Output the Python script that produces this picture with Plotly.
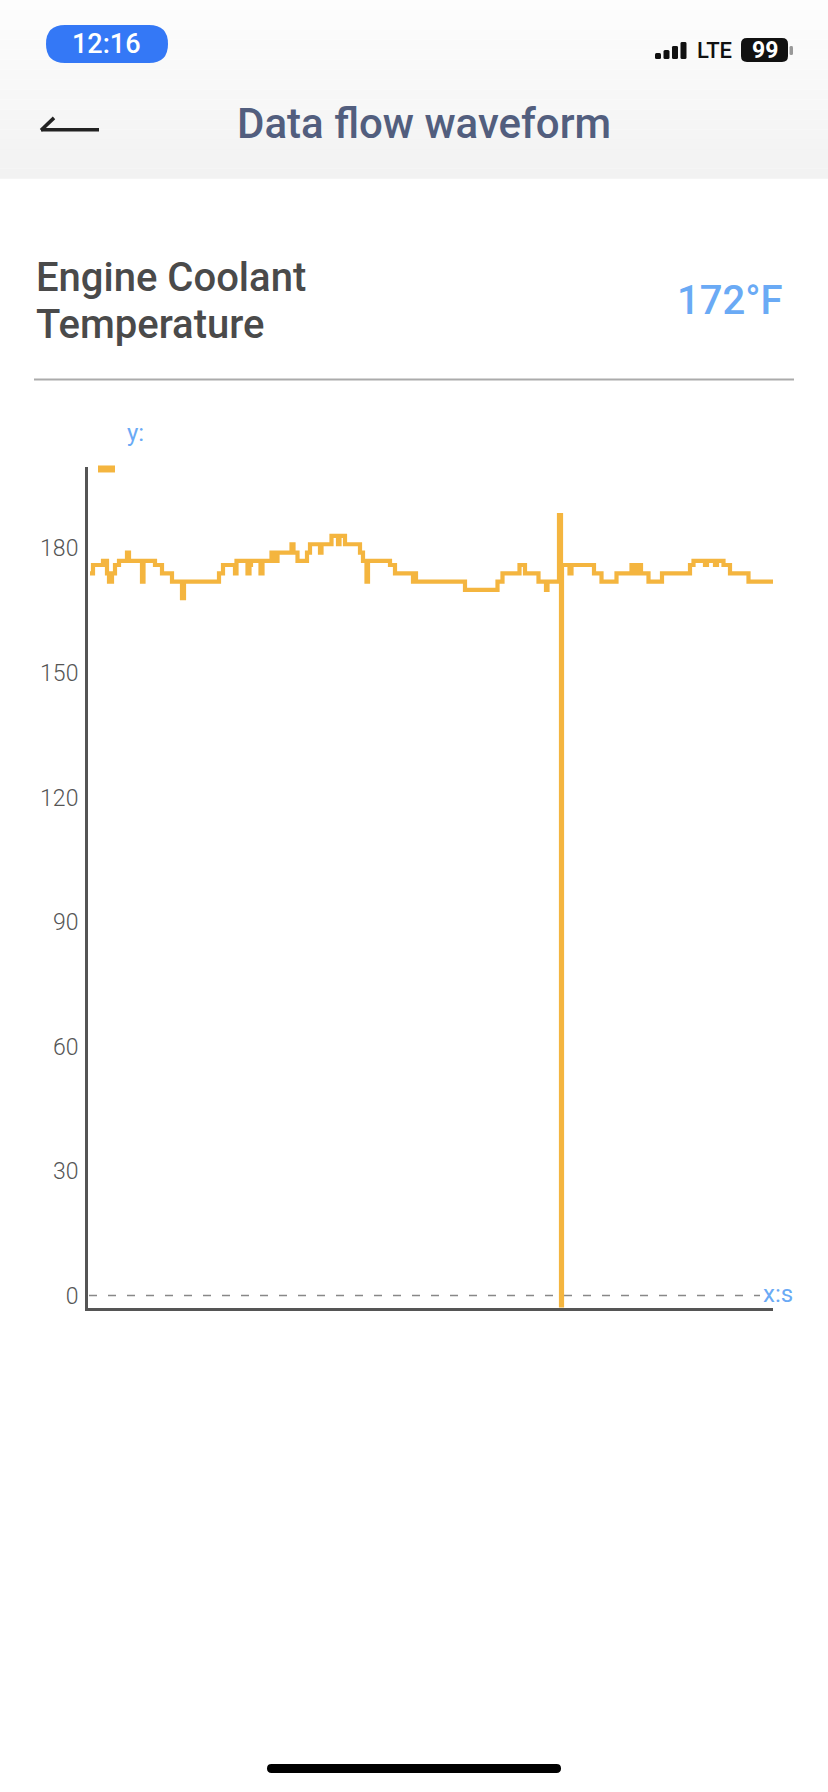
import plotly.graph_objects as go

# ---------------- data ----------------
time_s = [0, 1.5, 6.5, 8.5, 9.5, 11, 12.5, 14.5, 18.5, 19.5, 26, 26.75, 32.5, 36, 41, 46, 47,
          64.5, 66.5, 72.5, 73.25, 78.75, 79.75, 80.5, 85.25, 86.25, 90.75, 91.75, 93.75,
          100.75, 101.75, 103.75, 108.5, 110, 115, 115.75, 120.75, 124, 124.75, 127.5,
          135, 136.5, 138.25, 139, 150, 152.5, 161.5, 162, 163, 187.5, 203.75, 206.25,
          214.75, 217.5, 224.25, 228, 228.75, 234.5, 235.5, 236, 239.75, 240.75, 252,
          255.75, 263.25, 270.75, 272.5, 273.5, 275.5, 279.25, 286, 300, 301.75, 307.5,
          308.5, 312.5, 313.5, 316.75, 320, 329.25, 341.5]
temp_f = [174, 176, 177, 174, 172, 174, 176, 177, 179, 177, 172, 177, 176, 174, 172, 168, 172,
          174, 176, 174, 177, 174, 176, 177, 174, 177, 179, 177, 179,
          181, 179, 177, 179, 181, 179, 181, 183, 181, 183, 181,
          179, 177, 172, 177, 176, 174, 172, 174, 172, 170, 172, 174,
          176, 174, 172, 170, 172, 188, -40, 176, 174, 176, 174,
          172, 174, 176, 174, 176, 174, 172, 174, 176, 177, 176,
          177, 176, 177, 176, 174, 172, 172]
y_ticks = [0, 30, 60, 90, 120, 150, 180]
y_range = [-2.9, 199.5]
x_range = [-1, 341.5]

page_title = "Data flow waveform"
sensor_name = ["Engine Coolant", "Temperature"]
current_reading = "172°F"
status_time = "12:16"
battery_level = "99"

# ---------------- styling ----------------
W, H = 828, 1792
LINE_C = "#F4B53F"
BLUE_T = "#6AAAF5"
FONT = "Roboto"


def px(x):
    return x / W


def py(y):
    return 1 - y / H


def rrect(x0, y0, x1, y1, r, color):
    X = lambda v: f"{px(v):.6f}"
    Y = lambda v: f"{py(v):.6f}"
    p = (f"M {X(x0 + r)},{Y(y0)} L {X(x1 - r)},{Y(y0)} Q {X(x1)},{Y(y0)} {X(x1)},{Y(y0 + r)} "
         f"L {X(x1)},{Y(y1 - r)} Q {X(x1)},{Y(y1)} {X(x1 - r)},{Y(y1)} "
         f"L {X(x0 + r)},{Y(y1)} Q {X(x0)},{Y(y1)} {X(x0)},{Y(y1 - r)} "
         f"L {X(x0)},{Y(y0 + r)} Q {X(x0)},{Y(y0)} {X(x0 + r)},{Y(y0)} Z")
    return dict(type="path", path=p, xref="paper", yref="paper",
                fillcolor=color, line=dict(width=0), layer="above")


fig = go.Figure()
fig.add_trace(go.Scatter(x=time_s, y=temp_f, mode="lines",
                         line=dict(color=LINE_C, width=4.2, shape="hv"),
                         hoverinfo="skip", showlegend=False))

shapes = []
n_b = 18
for i in range(n_b):
    g = int(round(253 - (253 - 242) * i / (n_b - 1)))
    shapes.append(dict(type="rect", xref="paper", yref="paper",
                       x0=0, x1=1, y0=py(179 * (i + 1) / n_b), y1=py(179 * i / n_b),
                       fillcolor=f"rgb({g},{g},{g})", line=dict(width=0), layer="below"))
shapes.append(rrect(46, 25, 168, 63, 19, "#3478F6"))
for i, h in enumerate([6, 9, 13, 17]):
    bx = 655 + i * 8.5
    shapes.append(rrect(bx, 59 - h, bx + 6, 59, 1.5, "#111111"))
shapes.append(rrect(741, 38, 788, 62, 6, "#111111"))
shapes.append(rrect(789.5, 46, 793, 55, 1.5, "#999999"))
shapes.append(dict(type="line", xref="paper", yref="paper", x0=px(41), y0=py(130),
                   x1=px(99), y1=py(130), line=dict(color="#222222", width=3.5)))
shapes.append(dict(type="line", xref="paper", yref="paper", x0=px(41), y0=py(130.5),
                   x1=px(54), y1=py(118), line=dict(color="#222222", width=3.5)))
shapes.append(dict(type="line", xref="paper", yref="paper", x0=px(34), x1=px(794),
                   y0=py(380), y1=py(380), line=dict(color="#ABABAB", width=2)))
shapes.append(dict(type="rect", xref="paper", yref="paper", x0=px(98), x1=px(115),
                   y0=py(473), y1=py(466), fillcolor=LINE_C, line=dict(width=0)))
shapes.append(dict(type="line", xref="paper", yref="y", x0=px(89), x1=px(760),
                   y0=0, y1=0, line=dict(color="#888888", width=1.5, dash="8px,11px"),
                   layer="below"))
shapes.append(rrect(267, 1766, 561, 1775, 4.5, "#000000"))

ann = []


def text(x, y, s, size, color, anchor="left", weight=400):
    ann.append(dict(x=px(x), y=py(y), xref="paper", yref="paper", text=s, showarrow=False,
                    xanchor=anchor, yanchor="middle",
                    font=dict(family=FONT, size=size, color=color, weight=weight)))


text(107, 44, status_time, 27, "#FFFFFF", "center", 500)
text(695, 51, "LTE", 22, "#111111", "left", 500)
text(764.5, 51, battery_level, 23, "#FFFFFF", "center", 700)
text(424, 124, page_title, 42, "#525E7E", "center", 500)
text(34, 278, sensor_name[0], 40, "#4A4A4A", "left", 500)
text(34, 325, sensor_name[1], 40, "#4A4A4A", "left", 500)
text(785, 301, current_reading, 40, BLUE_T, "right", 500)
text(125, 433, "y:", 24, BLUE_T, "left")
text(761, 1295, "x:s", 24, BLUE_T, "left")

fig.update_layout(
    width=W, height=H, margin=dict(l=0, r=0, t=0, b=0),
    paper_bgcolor="#FFFFFF", plot_bgcolor="rgba(0,0,0,0)",
    shapes=shapes, annotations=ann, showlegend=False,
    xaxis=dict(domain=[px(88), px(773)], range=x_range, showgrid=False, zeroline=False,
               showline=True, linecolor="#555555", linewidth=3, showticklabels=False,
               ticks="", fixedrange=True),
    yaxis=dict(domain=[py(1309), py(468)], range=y_range, showgrid=False, zeroline=False,
               showline=True, linecolor="#555555", linewidth=3, tickvals=y_ticks,
               ticks="", ticklabelstandoff=2,
               tickfont=dict(family=FONT, size=23, color="#555555", weight=300),
               fixedrange=True),
)

fig.write_html("out.html",
               config={"displayModeBar": False, "staticPlot": True},
               post_script="document.body.style.margin='0';"
                           "document.body.style.overflow='hidden';")
